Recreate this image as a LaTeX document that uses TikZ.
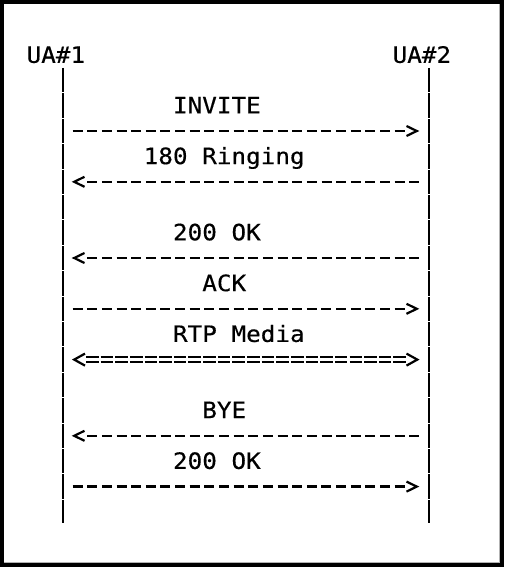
\documentclass[tikz,border=0pt]{standalone}
\usepackage{fontspec}
\newfontfamily\sipmono[FakeStretch=1.08,FakeBold=0.4]{DejaVu Sans Mono}
\usetikzlibrary{calc}
\tikzset{
  lbl/.style={anchor=base west, inner sep=0pt, font=\sipmono\fontsize{22.5}{27}\selectfont, text=black},
  lifeline/.style={line width=2pt, dash pattern=on 24.4pt off 1pt},
  msg/.style={line width=2.3pt, dash pattern=on 10pt off 4.64pt},
  dbl/.style={line width=2pt, dash pattern=on 12.6pt off 2.04pt},
  chev/.style={line width=2.2pt, line join=miter, line cap=butt},
}
\begin{document}
\begin{tikzpicture}[x=1pt,y=-1pt]
\useasboundingbox (0,0) rectangle (504,567);
% frame
\fill[black] (0,0) rectangle (504,567);
\fill[black!30] (4,4) rectangle (500,563);
\fill[white] (4,4) rectangle (499,562);
% headers
\node[lbl] (ua1) at (26.4,62.8) {UA\#1};
\node[lbl] (ua2) at (392.4,62.8) {UA\#2};
% lifelines
\coordinate (top1) at (63,68);
\coordinate (bot1) at (63,523);
\coordinate (top2) at (429,68);
\coordinate (bot2) at (429,523);
\draw[lifeline] (top1) -- (bot1);
\draw[lifeline] (top2) -- (bot2);
% message rows: y = 54.8 + 25.4 r ; label baseline = 37.1 + 25.4 r
\foreach \k/\r in {1/3,2/5,3/8,4/10,5/12,6/15,7/17}{
  \coordinate (a\k) at (63,{54.8+25.4*\r});
  \coordinate (b\k) at (429,{54.8+25.4*\r});
}
% labels (col c left edge = 55.7 + 14.64 c)
\node[lbl] (m1) at (172.8,{37.1+25.4*3}) {INVITE};
\node[lbl] (m2) at (143.5,{37.1+25.4*5}) {180 Ringing};
\node[lbl] (m3) at (172.8,{37.1+25.4*8}) {200 OK};
\node[lbl] (m4) at (202.1,{37.1+25.4*10}) {ACK};
\node[lbl] (m5) at (172.8,{37.1+25.4*12}) {RTP Media};
\node[lbl] (m6) at (202.1,{37.1+25.4*15}) {BYE};
\node[lbl] (m7) at (172.8,{37.1+25.4*17}) {200 OK};
% rightward messages
\foreach \k in {1,4,7}{
  \draw[msg] ($(a\k)+(9.6,0)$) -- ($(b\k)+(-24.3,0)$);
  \draw[chev] ($(b\k)+(-22.5,-5)$) -- ($(b\k)+(-12.2,0)$) -- ($(b\k)+(-22.5,5)$);
}
% leftward messages
\foreach \k in {2,3,6}{
  \draw[msg] ($(a\k)+(24.3,0)$) -- ($(b\k)+(-9.6,0)$);
  \draw[chev] ($(a\k)+(21.5,-5)$) -- ($(a\k)+(11.2,0)$) -- ($(a\k)+(21.5,5)$);
}
% media (double)
\draw[dbl] ($(a5)+(23,-2.5)$) -- ($(b5)+(-23,-2.5)$);
\draw[dbl] ($(a5)+(23,2.5)$) -- ($(b5)+(-23,2.5)$);
\draw[chev] ($(a5)+(22,-6)$) -- ($(a5)+(11.2,0)$) -- ($(a5)+(22,6)$);
\draw[chev] ($(b5)+(-22.5,-6)$) -- ($(b5)+(-11.7,0)$) -- ($(b5)+(-22.5,6)$);
\end{tikzpicture}
\end{document}
